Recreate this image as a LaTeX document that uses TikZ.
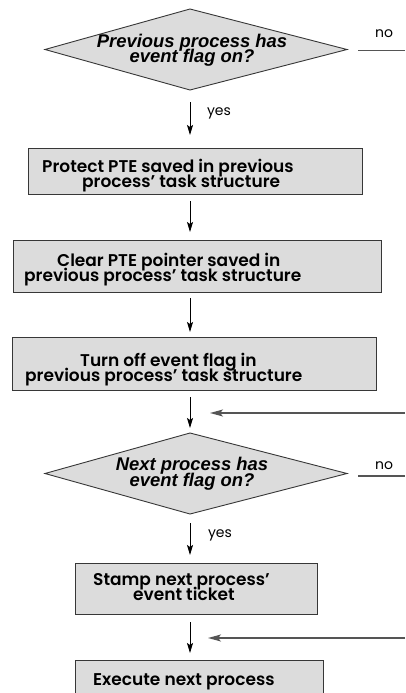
\documentclass[tikz,border=0pt]{standalone}
\usepackage{fontspec}
\usetikzlibrary{arrows.meta}
\newfontfamily\boxfont{Poppins SemiBold}
\newfontfamily\labelfont{Poppins}
\newfontfamily\askfont{Liberation Sans}

\definecolor{boxfill}{RGB}{220,220,220}
\definecolor{boxline}{RGB}{55,55,55}
\definecolor{feedline}{RGB}{85,85,85}

% tight leading: lines are set at a fixed baseline distance
\newcommand\tightlines{\lineskiplimit=-100pt\lineskip=0pt\relax}

\tikzset{
  stepbox/.style={draw=boxline, line width=1.2pt, fill=boxfill, inner sep=0pt, anchor=north west},
  decision/.style={draw=boxline, line width=0.9pt, fill=boxfill},
  steptext/.style={font=\boxfont\fontsize{17}{15}\selectfont\tightlines, align=left, anchor=base west, inner sep=0pt},
  asktext/.style={font=\askfont\bfseries\itshape\fontsize{18.4}{15.5}\selectfont\tightlines, align=center, anchor=base, inner sep=0pt},
  answer/.style={font=\labelfont\fontsize{14}{14}\selectfont, inner sep=0pt},
  flow/.style={draw, line width=0.9pt, -{Stealth[length=10pt,width=6pt,inset=2pt]}},
  feedback/.style={draw=feedline, line width=1.3pt, -{Stealth[length=13pt,width=7pt,inset=3pt]}},
  exitline/.style={draw=feedline, line width=1.1pt},
}

\begin{document}
\begin{tikzpicture}[x=1pt,y=-1pt]
\useasboundingbox[fill=white] (0,0) rectangle (405,693);

% first decision (text nodes are placed by the baseline of their last line)
\coordinate (d1w) at (45,49.5);
\coordinate (d1n) at (190,9);
\coordinate (d1e) at (347,49.5);
\coordinate (d1s) at (190,90);
\draw[decision] (d1w) -- (d1n) -- (d1e) -- (d1s) -- cycle;
\node[asktext] (q1) at (192,63) {Previous process has\\event flag on?};

% process steps
\node[stepbox, minimum width=334pt, minimum height=46pt] (b1) at (28,148) {};
\node[steptext] (t1) at (42,187) {Protect PTE saved in previous\\\hspace*{40pt}process’ task structure};

\node[stepbox, minimum width=368pt, minimum height=52pt] (b2) at (13,240) {};
\node[steptext] (t2) at (24,281) {\hspace*{33pt}Clear PTE pointer saved in\\previous process’ task structure};

\node[stepbox, minimum width=364pt, minimum height=53pt] (b3) at (12,337) {};
\node[steptext] (t3) at (25,381) {\hspace*{55pt}Turn off event flag in\\previous process’ task structure};

% second decision
\coordinate (d2w) at (45,473.5);
\coordinate (d2n) at (190,433);
\coordinate (d2e) at (347,473.5);
\coordinate (d2s) at (190,514);
\draw[decision] (d2w) -- (d2n) -- (d2e) -- (d2s) -- cycle;
\node[asktext] (q2) at (192,486) {Next process has\\event flag on?};

\node[stepbox, minimum width=242pt, minimum height=51pt] (b4) at (75,563) {};
\node[steptext] (t4) at (93,600) {Stamp next process’\\\hspace*{40pt}event ticket};

\node[stepbox, minimum width=248pt, minimum height=50pt] (b5) at (75,660) {};
\node[steptext] (t5) at (93,685) {Execute next process};

% main flow
\draw[flow, shorten <=12pt, shorten >=13pt] (d1s) -- (d1s |- b1.north);
\draw[flow, shorten <=6pt, shorten >=8pt] (b1.south -| d1s) -- (b2.north -| d1s);
\draw[flow, shorten <=5pt, shorten >=5pt] (b2.south -| d1s) -- (b3.north -| d1s);
\draw[flow, shorten <=6pt, shorten >=5pt] (b3.south -| d1s) -- (d2n);
\draw[flow, shorten <=9pt, shorten >=8pt] (d2s) -- (b4.north -| d2s);
\draw[flow, shorten <=7pt, shorten >=7pt] (b4.south -| d2s) -- (b5.north -| d2s);

\node[answer] (y1) at (219,113) {yes};
\node[answer] (y2) at (220,535) {yes};

% "no" exits
\coordinate (x1a) at (358,50.5);
\coordinate (x1b) at (405,50.5);
\draw[exitline] (x1a) -- (x1b);
\node[answer] (n1) at (384,34) {no};

\coordinate (x2a) at (358,476);
\coordinate (x2b) at (405,476);
\draw[exitline] (x2a) -- (x2b);
\node[answer] (n2) at (384,466) {no};

% returning paths
\coordinate (r1) at (405,413);
\coordinate (j1) at (190,413);
\draw[feedback, shorten >=20pt] (r1) -- (j1);
\coordinate (r2) at (405,638);
\coordinate (j2) at (190,638);
\draw[feedback, shorten >=18pt] (r2) -- (j2);
\end{tikzpicture}
\end{document}
